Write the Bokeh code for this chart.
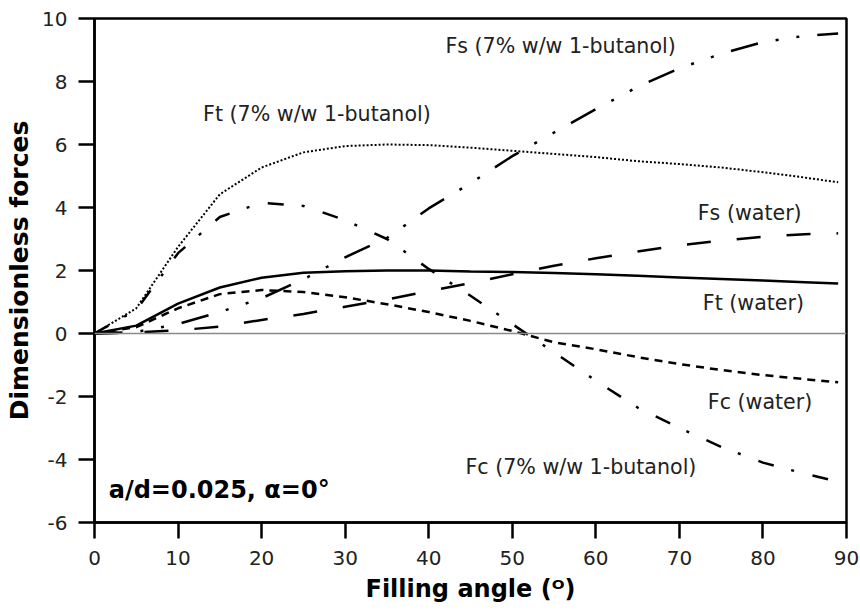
from bokeh.plotting import figure
from bokeh.models import Span, Range1d, FixedTicker, Label
from bokeh.embed import file_html
from bokeh.resources import INLINE

# Filling angle (degrees) shared by all six force curves
angle = [0, 5, 10, 15, 20, 25, 30, 35, 40, 45, 50, 55, 60, 65, 70, 75, 80, 85, 89]

# Dimensionless forces, water
ft_water = [0, 0.25, 0.95, 1.46, 1.77, 1.93, 1.98, 2.0, 2.0, 1.97, 1.95, 1.92, 1.88, 1.83, 1.78, 1.73, 1.68, 1.63, 1.59]
fc_water = [0, 0.2, 0.8, 1.25, 1.38, 1.32, 1.15, 0.93, 0.68, 0.4, 0.08, -0.28, -0.5, -0.75, -0.97, -1.16, -1.32, -1.45, -1.55]
fs_water = [0, 0.03, 0.1, 0.22, 0.43, 0.62, 0.85, 1.08, 1.35, 1.6, 1.88, 2.15, 2.39, 2.6, 2.8, 2.95, 3.07, 3.15, 3.18]

# Dimensionless forces, 7% w/w 1-butanol
ft_but = [0, 0.8, 2.75, 4.42, 5.27, 5.75, 5.95, 6.0, 5.98, 5.9, 5.8, 5.7, 5.6, 5.47, 5.38, 5.27, 5.12, 4.95, 4.8]
fc_but = [0, 0.75, 2.55, 3.7, 4.15, 4.05, 3.6, 3.0, 2.05, 1.2, 0.3, -0.6, -1.5, -2.35, -3.0, -3.6, -4.1, -4.45, -4.7]
fs_but = [0, 0.05, 0.3, 0.68, 1.12, 1.72, 2.42, 3.03, 3.97, 4.77, 5.63, 6.38, 7.12, 7.83, 8.42, 8.88, 9.25, 9.45, 9.52]

x_ticks = [0, 10, 20, 30, 40, 50, 60, 70, 80, 90]
y_ticks = [-6, -4, -2, 0, 2, 4, 6, 8, 10]

FONT = "DejaVu Sans"

p = figure(width=860, height=615, output_backend="svg", toolbar_location=None,
           x_range=Range1d(0, 90), y_range=Range1d(-6, 10),
           min_border_left=94, min_border_right=14, min_border_top=18, min_border_bottom=93)
p.background_fill_color = "white"
p.border_fill_color = "white"
p.grid.visible = False
p.outline_line_color = "black"
p.outline_line_width = 2.5

for ax in (p.xaxis[0], p.yaxis[0]):
    ax.axis_line_width = 2.5
    ax.major_tick_line_width = 2.5
    ax.major_tick_out = 16
    ax.major_tick_in = 0
    ax.minor_tick_line_color = None
    ax.major_label_text_font = FONT
    ax.major_label_text_font_size = "20px"
    ax.major_label_text_color = "#222222"
    ax.axis_label_text_font = FONT
    ax.axis_label_text_font_style = "bold"
    ax.axis_label_text_color = "black"

p.xaxis.ticker = FixedTicker(ticks=x_ticks)
p.yaxis.ticker = FixedTicker(ticks=y_ticks)
# plain hyphen for negative tick values
p.yaxis.major_label_overrides = {t: str(t) for t in y_ticks}
p.xaxis.axis_label = "Filling angle (ᴼ)"
p.yaxis.axis_label = "Dimensionless forces"
p.xaxis.axis_label_text_font_size = "24px"
p.yaxis.axis_label_text_font_size = "25px"
p.xaxis.major_label_standoff = 12
p.yaxis.major_label_standoff = 11
p.xaxis.axis_label_standoff = 7
p.yaxis.axis_label_standoff = 5

# zero reference line
p.add_layout(Span(location=0, dimension="width", line_color="#8a8a8a", line_width=1.5))

# water curves
p.line(angle, ft_water, line_color="black", line_width=2.5)
p.line(angle, fc_water, line_color="black", line_width=2.5, line_dash="8 6")
p.line(angle, fs_water, line_color="black", line_width=2.5, line_dash="24 26")

# 7% w/w 1-butanol curves
p.line(angle, ft_but, line_color="black", line_width=2, line_dash="2 2")
p.line(angle, fc_but, line_color="black", line_width=2.5, line_dash="16 18 3 19")
p.line(angle, fs_but, line_color="black", line_width=2.5, line_dash="28 18 3 18 3 18")

labels = [
    (42.0, 9.14, "Fs (7% w/w 1-butanol)"),
    (13.0, 6.98, "Ft (7% w/w 1-butanol)"),
    (72.2, 3.84, "Fs (water)"),
    (72.8, 0.98, "Ft (water)"),
    (73.4, -2.19, "Fc (water)"),
    (44.4, -4.25, "Fc (7% w/w 1-butanol)"),
]
for lx, ly, txt in labels:
    p.add_layout(Label(x=lx, y=ly, text=txt, text_font=FONT, text_font_size="20.6px",
                       text_color="#222222", text_align="left", text_baseline="middle"))

p.add_layout(Label(x=1.7, y=-4.98, text="a/d=0.025, α=0°", text_font=FONT,
                   text_font_size="24px", text_font_style="bold", text_color="black",
                   text_align="left", text_baseline="middle"))

open("out.html", "w").write(file_html(p, INLINE))
